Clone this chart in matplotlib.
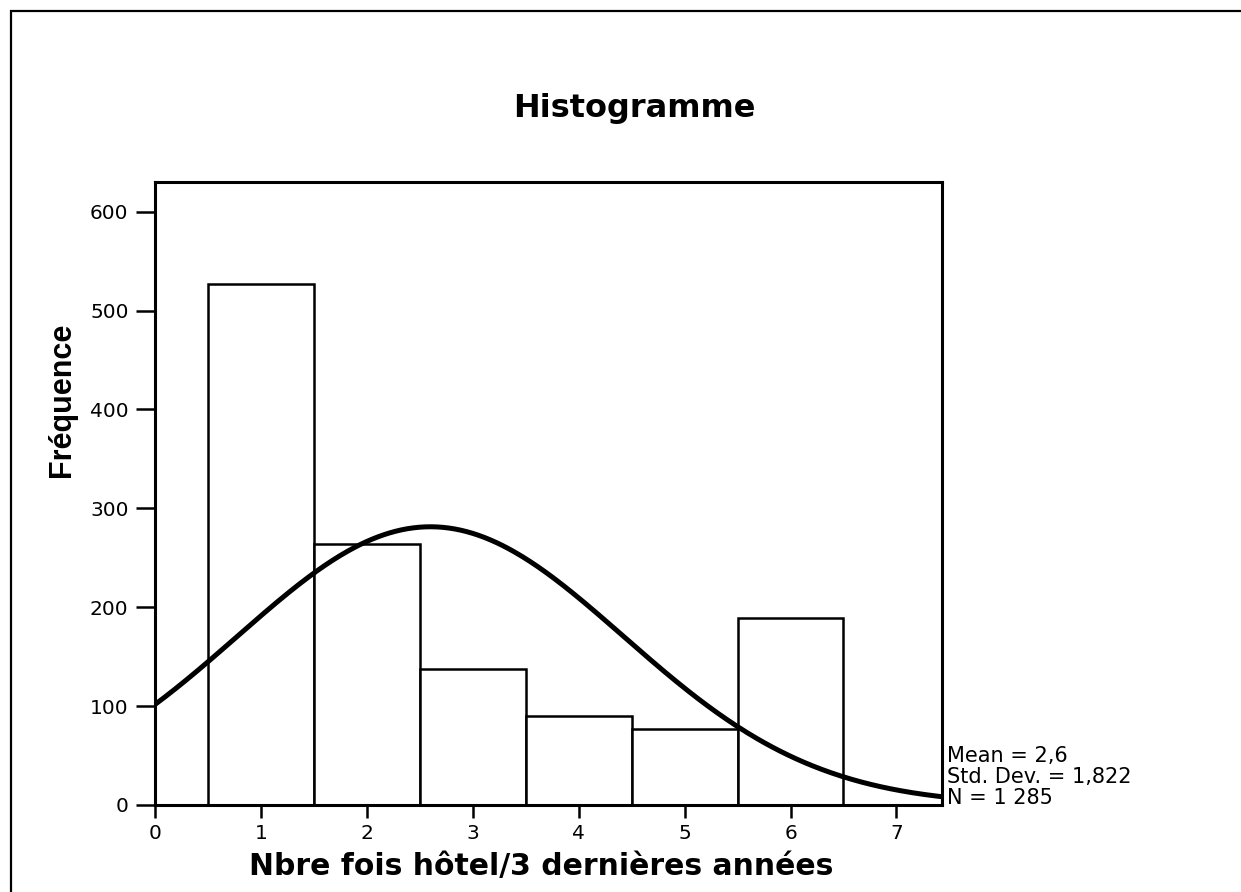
import numpy as np
import matplotlib
matplotlib.use("Agg")
import matplotlib.pyplot as plt
from matplotlib.patches import Rectangle

# Visits to a hotel over the last 3 years: counts per value
categories = [1, 2, 3, 4, 5, 6]
frequencies = [527, 264, 138, 90, 77, 189]
y_ticks = [0, 100, 200, 300, 400, 500, 600]
x_ticks = [0, 1, 2, 3, 4, 5, 6, 7]

mean_value = 2.6
std_dev = 1.822
n_total = 1285

title_text = "Histogramme"
x_label = "Nbre fois hôtel/3 dernières années"
y_label = "Fréquence"
stats_lines = ["Mean = 2,6", "Std. Dev. = 1,822", "N = 1 285"]

W, H = 1241, 892
fig = plt.figure(figsize=(W / 100, H / 100), dpi=100)
fig.patch.set_facecolor("white")

wide_font = ["DejaVu Sans"]
narrow_font = ["Liberation Sans Narrow", "Liberation Sans", "DejaVu Sans"]

# outer frame (only the top and left edges fall inside the page)
fig.patches.append(Rectangle((10.5 / W, -0.2), 1.5, 1.2 - 10.5 / H,
                             transform=fig.transFigure, fill=False,
                             lw=1.6, ec="black"))

ax = fig.add_axes([155 / W, 1 - 805 / H, (942 - 155) / W, (805 - 182) / H])
ax.set_xlim(0, 7.43)
ax.set_ylim(0, 630)

# histogram bars, unit width centred on each value
ax.bar(categories, frequencies, width=1.0, align="center",
       facecolor="white", edgecolor="black", linewidth=1.8, zorder=2)

# fitted normal curve scaled to the counts
xs = np.linspace(0, 7.43, 400)
pdf = np.exp(-0.5 * ((xs - mean_value) / std_dev) ** 2) / (std_dev * np.sqrt(2 * np.pi))
ax.plot(xs, n_total * 1.0 * pdf, color="black", lw=3.6, zorder=3,
        solid_capstyle="butt")

ax.set_xticks(x_ticks)
ax.set_yticks(y_ticks)
ax.set_xticklabels([str(v) for v in x_ticks], fontsize=14.5, family=wide_font)
ax.set_yticklabels([str(v) for v in y_ticks], fontsize=14.5, family=wide_font)
ax.tick_params(axis="y", direction="out", length=14, width=1.8, pad=5)
ax.tick_params(axis="x", direction="out", length=9.5, width=1.8, pad=4)
for s in ax.spines.values():
    s.set_linewidth(2.2)

fig.text(634 / W, 1 - 109 / H, title_text, ha="center", va="center",
         fontsize=23, fontweight="bold", family=wide_font)
fig.text(541 / W, 1 - 866 / H, x_label, ha="center", va="center",
         fontsize=21.5, fontweight="bold", family=wide_font)
fig.text(62 / W, 1 - 400 / H, y_label, ha="center", va="center",
         rotation=90, fontsize=22, fontweight="bold", family=narrow_font)

fig.text(947 / W, 1 - 808 / H, "\n".join(stats_lines), ha="left", va="bottom",
         fontsize=15, family=wide_font, linespacing=1.05)

fig.savefig("out.png", dpi=100, facecolor="white")
